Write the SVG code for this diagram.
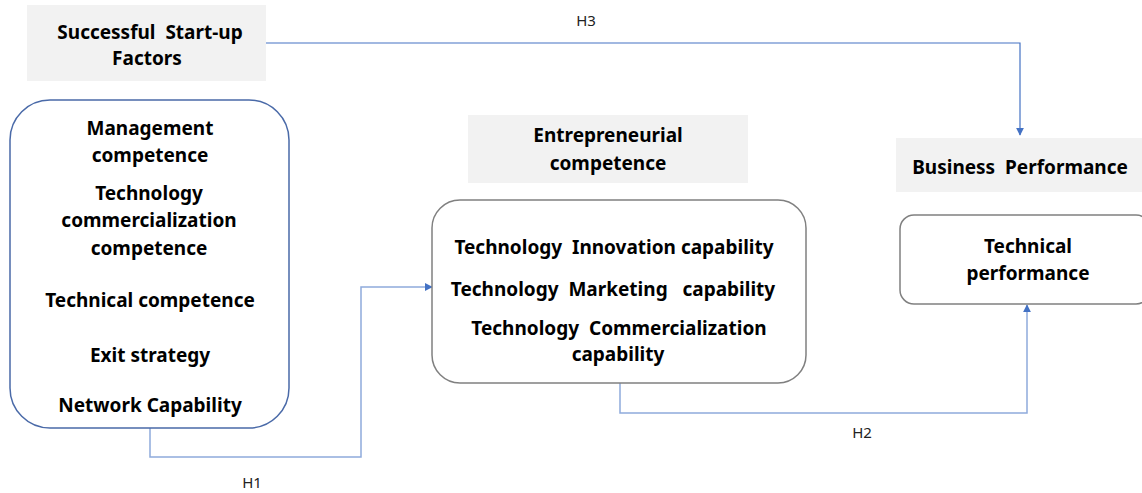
<svg xmlns="http://www.w3.org/2000/svg" width="1142" height="493" viewBox="0 0 1142 493" xml:space="preserve">
  <style>
    .hdr { fill: #f2f2f2; }
    .t { font-family: "Noto Sans", "Liberation Sans", sans-serif; font-weight: bold; font-size: 19px; fill: #000; text-anchor: middle; dominant-baseline: central; white-space: pre; }
    .lbl { font-family: "Noto Sans", "Liberation Sans", sans-serif; font-size: 15px; fill: #222; text-anchor: middle; dominant-baseline: central; }
    .conn { fill: none; stroke: #8faadc; stroke-width: 1.5; }
    .conn-dark { fill: none; stroke: #4472c4; stroke-width: 1.2; }
  </style>
  <defs>
    <marker id="arrow" viewBox="0 0 10 10" refX="9" refY="5" markerWidth="8" markerHeight="8" markerUnits="userSpaceOnUse" orient="auto">
      <path d="M0,0 L10,5 L0,10 z" fill="#4472c4"/>
    </marker>
  </defs>
  <rect width="1142" height="493" fill="#fff"/>

  <!-- connectors -->
  <g id="connectors">
    <path id="h3" class="conn-dark" d="M266,43 H1020 V135" marker-end="url(#arrow)"/>
    <path id="h1" class="conn" d="M150,428 V457 H361 V287 H432" marker-end="url(#arrow)"/>
    <path id="h2" class="conn" d="M620,383 V413 H1027 V305" marker-end="url(#arrow)"/>
    <text class="lbl" x="586" y="20">H3</text>
    <text class="lbl" x="252" y="482">H1</text>
    <text class="lbl" x="862" y="432">H2</text>
  </g>

  <!-- start-up factors -->
  <g id="startup-header">
    <rect class="hdr" x="27" y="5" width="239" height="76"/>
    <text class="t" x="150" y="32">Successful  Start-up</text>
    <text class="t" x="147" y="58">Factors</text>
  </g>
  <g id="startup-factors">
    <rect x="10" y="100" width="279" height="328" rx="40" ry="40" fill="#fff" stroke="#4a6aa8" stroke-width="1.5"/>
    <text class="t" x="150" y="128">Management</text>
    <text class="t" x="150" y="155">competence</text>
    <text class="t" x="149" y="193">Technology</text>
    <text class="t" x="149" y="220">commercialization</text>
    <text class="t" x="149" y="248">competence</text>
    <text class="t" x="150" y="300">Technical competence</text>
    <text class="t" x="150" y="355">Exit strategy</text>
    <text class="t" x="150" y="405">Network Capability</text>
  </g>

  <!-- entrepreneurial competence -->
  <g id="entre-header">
    <rect class="hdr" x="468" y="115" width="280" height="68"/>
    <text class="t" x="608" y="135">Entrepreneurial</text>
    <text class="t" x="608" y="163">competence</text>
  </g>
  <g id="entre-capabilities">
    <rect x="432" y="200" width="374" height="183" rx="28" ry="28" fill="#fff" stroke="#808080" stroke-width="1.5"/>
    <text class="t" x="614" y="247">Technology  Innovation capability</text>
    <text class="t" x="613" y="289">Technology  Marketing   capability</text>
    <text class="t" x="619" y="328">Technology  Commercialization</text>
    <text class="t" x="618" y="354">capability</text>
  </g>

  <!-- business performance -->
  <g id="perf-header">
    <rect class="hdr" x="896" y="138" width="246" height="54"/>
    <text class="t" x="1020" y="167">Business  Performance</text>
  </g>
  <g id="tech-performance">
    <rect x="900" y="215" width="250" height="89" rx="14" ry="14" fill="#fff" stroke="#808080" stroke-width="1.5"/>
    <text class="t" x="1028" y="246">Technical</text>
    <text class="t" x="1028" y="273">performance</text>
  </g>
</svg>
